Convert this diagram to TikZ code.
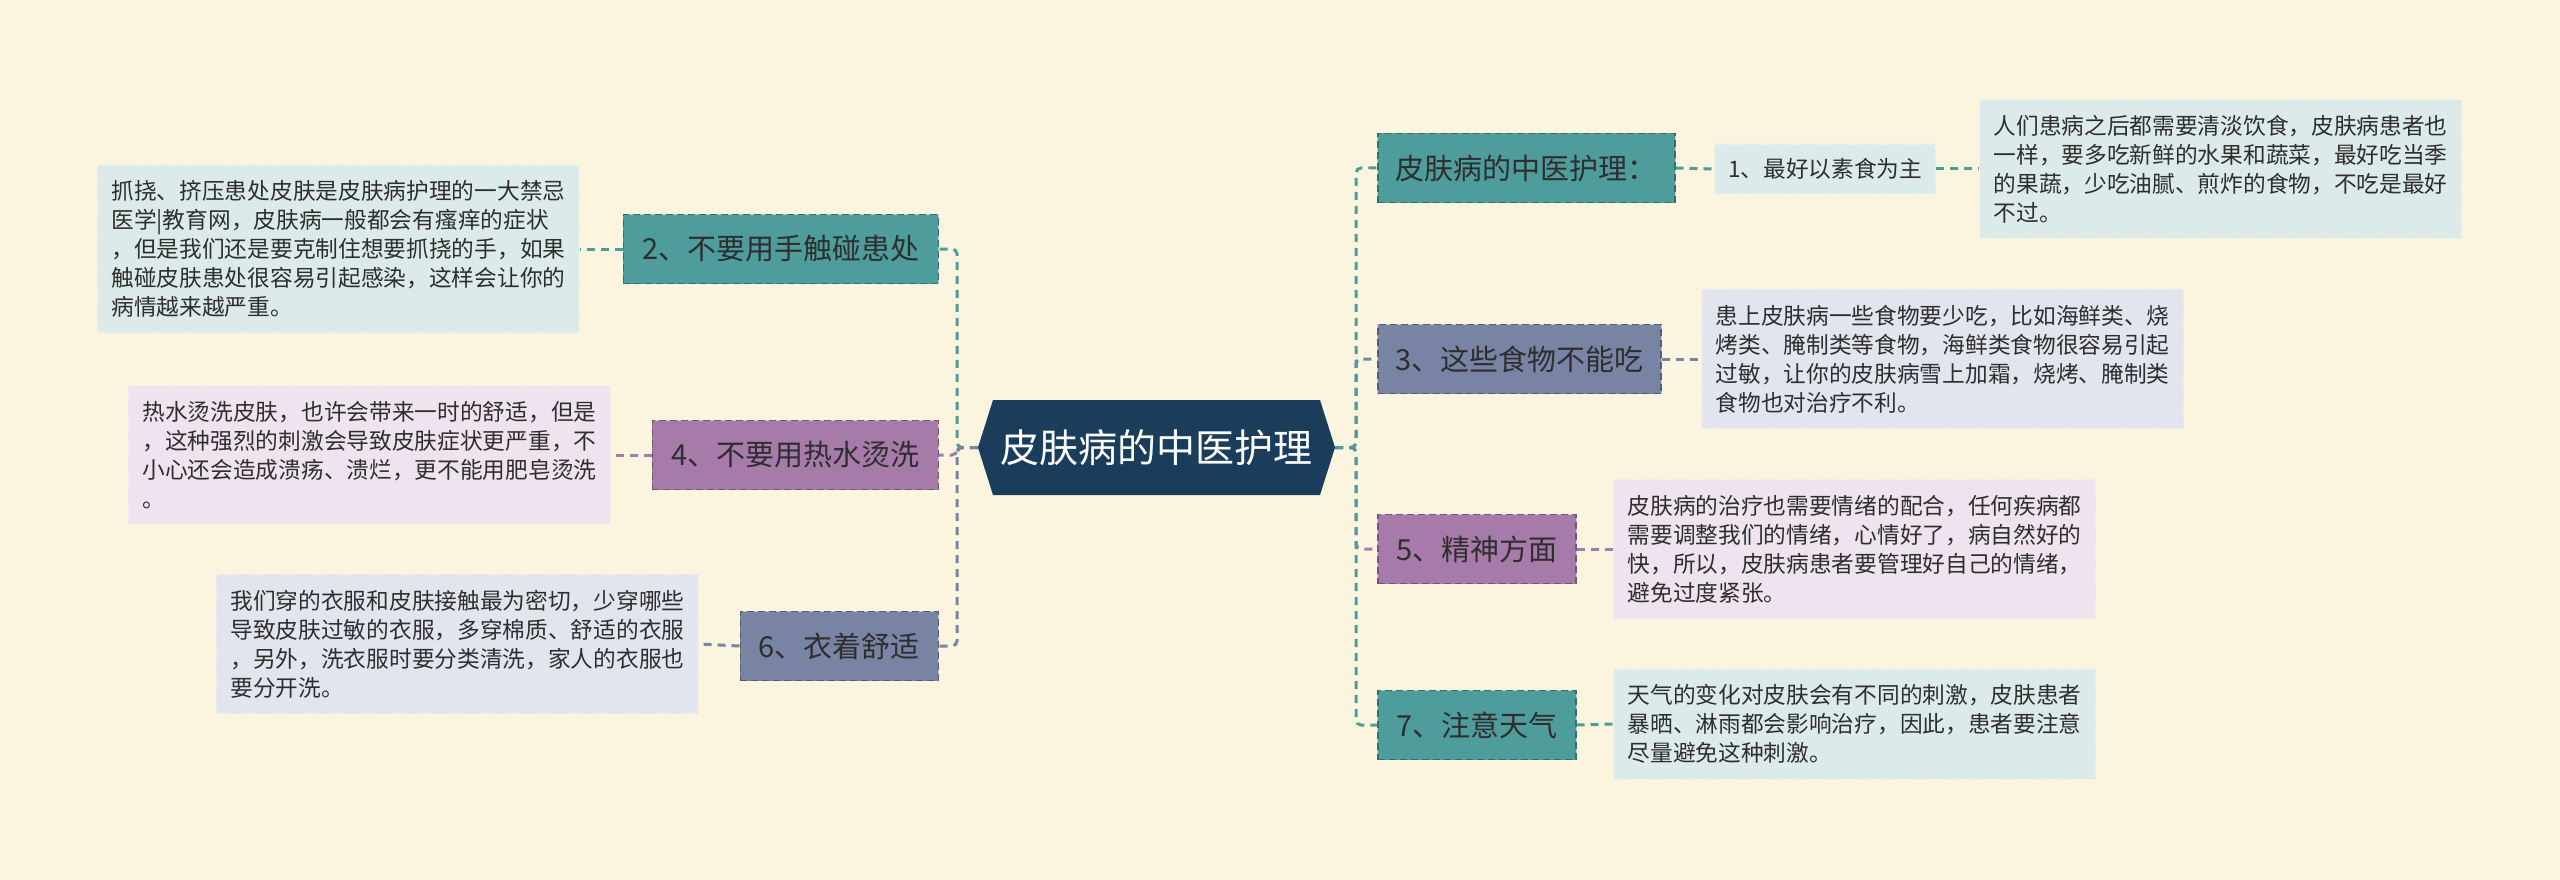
\documentclass[tikz,border=0pt]{standalone}
\usepackage{fontspec}
\setmainfont{Noto Sans CJK SC}
\definecolor{bg}{HTML}{FBF5E0}
\definecolor{navy}{HTML}{1B3D5C}
\definecolor{cteal}{HTML}{4E9C9B}
\definecolor{cpurp}{HTML}{A67BA9}
\definecolor{cslate}{HTML}{7984A5}
\definecolor{lteal}{HTML}{DCEBEA}
\definecolor{lpurp}{HTML}{EEE3EE}
\definecolor{lslate}{HTML}{E2E5EE}
\definecolor{txt}{HTML}{2E2E2E}
\begin{document}
\begin{tikzpicture}[x=1pt,y=-1pt,
  br/.style={fill=#1, draw=#1!70!black, dash pattern=on 7pt off 4pt, line width=1.5pt,
    preaction={draw=#1!45!white, solid, line width=1.5pt},
    text=txt, font=\fontsize{29}{34}\selectfont, minimum height=69pt, inner xsep=10pt, inner ysep=0pt},
  ds/.style={fill=#1, draw=white!40!#1, dash pattern=on 7pt off 4pt, line width=1.2pt,
    text width=454pt, inner xsep=14pt, inner ysep=15.5pt, align=left,
    font=\fontsize{22.7}{29}\selectfont, text=txt},
  ln/.style={draw=#1, line width=3pt, dash pattern=on 8pt off 6pt},
  ctr/.style={minimum width=357pt, minimum height=95pt, inner sep=0pt, text=white,
    font=\fontsize{39}{44}\selectfont}
]
\path[use as bounding box, fill=bg] (0,0) rectangle (2560,880);

% centre
\fill[navy] (978,447.5) -- (993,400) -- (1320,400) -- (1335,447.5) -- (1320,495) -- (993,495) -- cycle;
\node[ctr] (c) at (1156.5,447.5) {皮肤病的中医护理};

\coordinate (lt) at (957,447.5);
\coordinate (rt) at (1356,447.5);

% left branches
\node[br=cteal, minimum width=315pt, anchor=east] (n2) at (939,249) {2、不要用手触碰患处};
\node[br=cpurp, minimum width=286pt, anchor=east] (n4) at (939,455) {4、不要用热水烫洗};
\node[br=cslate, minimum width=198pt, anchor=east] (n6) at (939,646) {6、衣着舒适};

\node[ds=lteal, anchor=east] (d2) at (580,249) {抓挠、挤压患处皮肤是皮肤病护理的一大禁忌\\医学|教育网，皮肤病一般都会有瘙痒的症状\\，但是我们还是要克制住想要抓挠的手，如果\\触碰皮肤患处很容易引起感染，这样会让你的\\病情越来越严重。};
\node[ds=lpurp, anchor=east] (d4) at (611,455) {热水烫洗皮肤，也许会带来一时的舒适，但是\\，这种强烈的刺激会导致皮肤症状更严重，不\\小心还会造成溃疡、溃烂，更不能用肥皂烫洗\\。};
\node[ds=lslate, anchor=east] (d6) at (699,644) {我们穿的衣服和皮肤接触最为密切，少穿哪些\\导致皮肤过敏的衣服，多穿棉质、舒适的衣服\\，另外，洗衣服时要分类清洗，家人的衣服也\\要分开洗。};

% right branches
\node[br=cteal, minimum width=297pt, anchor=west] (n0) at (1377,168) {皮肤病的中医护理：};
\node[br=cslate, minimum width=283pt, anchor=west] (n3) at (1377,359) {3、这些食物不能吃};
\node[br=cpurp, minimum width=198pt, anchor=west] (n5) at (1377,549) {5、精神方面};
\node[br=cteal, minimum width=198pt, anchor=west] (n7) at (1377,725) {7、注意天气};

\node[fill=lteal, draw=white!40!lteal, dash pattern=on 7pt off 4pt, line width=1.2pt,
  minimum width=221pt, minimum height=50pt, inner sep=0pt, text=txt,
  font=\fontsize{22.7}{28}\selectfont, anchor=west] (n1) at (1714,169) {1、最好以素食为主};

\node[ds=lteal, anchor=west] (d1) at (1979,169) {人们患病之后都需要清淡饮食，皮肤病患者也\\一样，要多吃新鲜的水果和蔬菜，最好吃当季\\的果蔬，少吃油腻、煎炸的食物，不吃是最好\\不过。};
\node[ds=lslate, anchor=west] (d3) at (1701,359) {患上皮肤病一些食物要少吃，比如海鲜类、烧\\烤类、腌制类等食物，海鲜类食物很容易引起\\过敏，让你的皮肤病雪上加霜，烧烤、腌制类\\食物也对治疗不利。};
\node[ds=lpurp, anchor=west] (d5) at (1613,549) {皮肤病的治疗也需要情绪的配合，任何疾病都\\需要调整我们的情绪，心情好了，病自然好的\\快，所以，皮肤病患者要管理好自己的情绪，\\避免过度紧张。};
\node[ds=lteal, anchor=west] (d7) at (1613,724) {天气的变化对皮肤会有不同的刺激，皮肤患者\\暴晒、淋雨都会影响治疗，因此，患者要注意\\尽量避免这种刺激。};

% trunk connectors (left)
\draw[ln=cteal, rounded corners=5pt] (c.west) -- (lt) |- (n2.east);
\draw[ln=cpurp, rounded corners=5pt] (c.west) -- (lt) |- (n4.east);
\draw[ln=cslate, rounded corners=5pt] (c.west) -- (lt) |- (n6.east);
% trunk connectors (right)
\draw[ln=cslate, rounded corners=5pt] (c.east) -- (rt) |- (n3.west);
\draw[ln=cpurp, rounded corners=5pt] (c.east) -- (rt) |- (n5.west);
\draw[ln=cteal, rounded corners=5pt] (c.east) -- (rt) |- (n0.west);
\draw[ln=cteal, rounded corners=5pt] (c.east) -- (rt) |- (n7.west);

% leaf connectors
\draw[ln=cteal] (n2.west) -- (d2.east);
\draw[ln=cpurp] (n4.west) -- (d4.east);
\draw[ln=cslate] (n6.west) -- (d6.east);
\draw[ln=cteal] (n0.east) -- (n1.west);
\draw[ln=cteal] (n1.east) -- (d1.west);
\draw[ln=cslate] (n3.east) -- (d3.west);
\draw[ln=cpurp] (n5.east) -- (d5.west);
\draw[ln=cteal] (n7.east) -- (d7.west);
\end{tikzpicture}
\end{document}
